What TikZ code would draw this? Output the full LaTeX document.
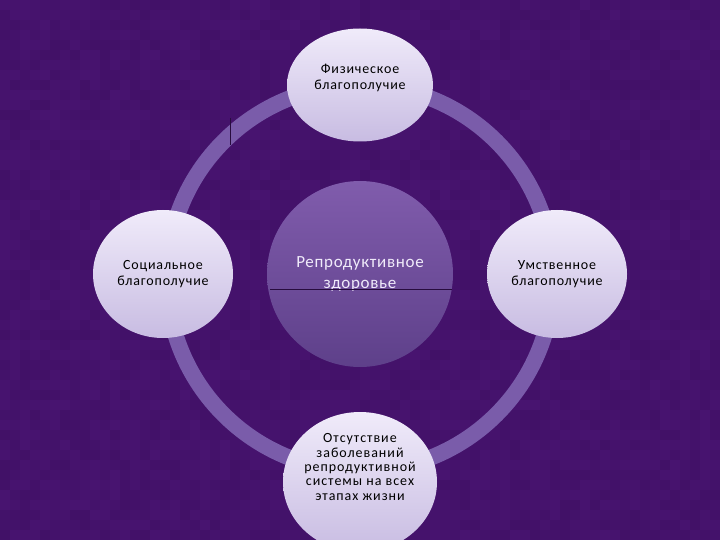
\documentclass[tikz,border=0pt]{standalone}
\usepackage{fontspec}
\setmainfont{Carlito}
\usetikzlibrary{shapes.geometric}
\definecolor{bgpurple}{RGB}{72,20,112}
\definecolor{bgdark}{RGB}{50,10,82}
\definecolor{ringlilac}{RGB}{122,92,170}
\definecolor{palelilac}{RGB}{240,235,250}
\definecolor{duskylilac}{RGB}{200,188,226}
\definecolor{hubtop}{RGB}{128,92,172}
\definecolor{hubbottom}{RGB}{94,64,138}
\definecolor{seamline}{RGB}{40,12,62}

\begin{document}
\begin{tikzpicture}[x=1pt,y=-1pt,
    bubble/.style={ellipse,top color=palelilac,bottom color=duskylilac,
      align=center,text=black,inner sep=0pt,
      font=\fontsize{14}{16}\selectfont\addfontfeatures{LetterSpace=6}},
    bubbletext/.style={align=center,text=black,
      font=\fontsize{14}{16}\selectfont\addfontfeatures{LetterSpace=6}},
    hub/.style={ellipse,top color=hubtop,bottom color=hubbottom,
      align=center,text=palelilac,inner sep=0pt,
      minimum width=186pt,minimum height=186pt,
      font=\fontsize{17}{21}\selectfont\addfontfeatures{LetterSpace=4}}]
				% Background
				\useasboundingbox (0,0) rectangle (720,540);
				\clip (0,0) rectangle (720,540);
				\fill[bgpurple] (0,0) rectangle (720,540);
				\pgfmathsetseed{7}
				\foreach \i in {0,...,71}
				  \foreach \j in {0,...,53} {
				    \pgfmathrandominteger{\tone}{0}{28}
				    \fill[bgdark,opacity=\tone/100] (10*\i,10*\j) rectangle ++(10,10);
				  }
				
				% Ring
				\coordinate (mid) at (360,278);
				\draw[ringlilac,line width=16pt] (mid) circle (193pt);
				\draw[seamline,thin] (230,118) -- (230,145);
				
				% Centre
				\node[hub] (repro) at (360,274) {Репродуктивное\\здоровье};
				\draw[seamline,thin] (270,289.5) -- (452,289.5);
				
				% Outer circles
				\node[bubble,minimum width=146pt,minimum height=113pt] (phys) at (360,85) {};
				\node[bubbletext] (physlabel) at (360,78) {Физическое\\благополучие};
				\node[bubble,minimum width=140pt,minimum height=128pt] (soc) at (163,274)
				  {Социальное\\благополучие};
				\node[bubble,minimum width=140pt,minimum height=128pt] (mind) at (557,274)
				  {Умственное\\благополучие};
				\node[bubble,minimum width=154pt,minimum height=140pt] (nodis) at (360,482) {};
				\node[bubbletext,font=\fontsize{14}{14.4}\selectfont\addfontfeatures{LetterSpace=7}]
				  (nodislabel) at (360,467)
				  {Отсутствие\\заболеваний\\репродуктивной\\системы на всех\\этапах жизни};
			\end{tikzpicture}
\end{document}
